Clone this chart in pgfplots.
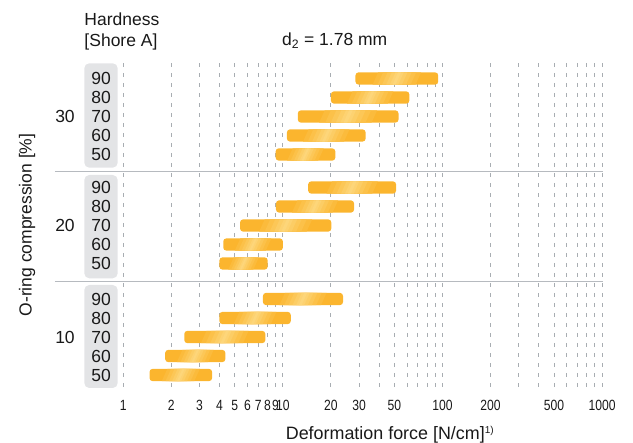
\documentclass[border=0pt]{standalone}
\usepackage{pgfplots}
\pgfplotsset{compat=1.18}
\usepackage{fontspec}
\setmainfont{Liberation Sans}
\newfontfamily\cond[FakeStretch=0.82]{Liberation Sans}
\definecolor{barO}{RGB}{251,181,46}
\definecolor{barL}{RGB}{253,214,122}
\definecolor{boxc}{RGB}{227,228,230}
\definecolor{sepc}{RGB}{182,186,191}
\definecolor{gridc}{RGB}{168,173,178}
\definecolor{txt}{RGB}{25,25,25}
% one bar: x from #1 to #2 (N/cm), row centre #3
\newcommand\hb[3]{%
  \pgfmathsetmacro\ya{#3-6.1}\pgfmathsetmacro\yb{#3+6.1}%
  \addplot[barst] coordinates {(#1,#3) (#1,\ya) (#2,\ya) (#2,\yb) (#1,\yb)} -- cycle;
  \pgfmathsetmacro\lc{(ln(#1)+ln(#2))/2}\pgfmathsetmacro\lw{ln(#2)-ln(#1)}%
  \foreach \f/\m in {0.26/18,0.20/36,0.145/54,0.095/72,0.05/88,0.018/100}{%
    \pgfmathsetmacro\xla{exp(\lc-\f*\lw+0.04)}\pgfmathsetmacro\xra{exp(\lc+\f*\lw+0.04)}%
    \pgfmathsetmacro\xlb{exp(\lc-\f*\lw-0.04)}\pgfmathsetmacro\xrb{exp(\lc+\f*\lw-0.04)}%
    \edef\tmp{\noexpand\addplot[draw=none, fill=barL!\m!barO] coordinates {(\xla,\ya) (\xra,\ya) (\xrb,\yb) (\xlb,\yb)} -- cycle;}\tmp
  }%
}
\begin{document}
\begin{tikzpicture}[font=\fontsize{17.5}{21}\selectfont, every node/.style={text=txt}]
\begin{axis}[
  xmode=log, log basis x=10,
  scale only axis, width=633pt, height=324.7pt,
  xmin=0.16882, xmax=1561.7,
  ymin=63.3, ymax=388, y dir=reverse,
  clip=false,
  axis line style={draw=none},
  major tick length=0pt, tick style={draw=none},
  ytick=\empty,
  xtick={1,2,3,4,5,6,7,8,9,10,20,30,40,50,60,70,80,90,100,200,300,400,500,600,700,800,900,1000},
  xticklabels={1,2,3,4,5,6,7,8,9,10,20,30,{},50,{},{},{},{},100,200,{},{},500,{},{},{},{},1000},
  xticklabel style={anchor=center, yshift=-17.7pt, font=\cond\fontsize{14.8}{16}\selectfont, text=txt},
  grid=major,
  major grid style={dash pattern=on 4pt off 6pt, color=gridc, line width=0.9pt},
  barst/.style={draw=none, fill=barO, rounded corners=3pt},
  boxst/.style={draw=none, fill=boxc, rounded corners=5pt},
]
% grey boxes behind hardness labels
\addplot[boxst] coordinates {(0.5696,115) (0.5696,63.3) (0.9224,63.3) (0.9224,167.7) (0.5696,167.7)} -- cycle;
\addplot[boxst] coordinates {(0.5696,225) (0.5696,175) (0.9224,175) (0.9224,278.3) (0.5696,278.3)} -- cycle;
\addplot[boxst] coordinates {(0.5696,335) (0.5696,285) (0.9224,285) (0.9224,388) (0.5696,388)} -- cycle;
% separators
\addplot[sepc, line width=1.4pt] coordinates {(0.3733,171.5) (1005.8,171.5)};
\addplot[sepc, line width=1.4pt] coordinates {(0.3733,281.8) (1005.8,281.8)};
% compression 30 %  (hardness 90, 80, 70, 60, 50)
\hb{28.5}{94}{78.5}
\hb{20}{62}{97.5}
\hb{12.4}{53}{116.5}
\hb{10.6}{33}{135.5}
\hb{9}{21.3}{154.5}
% compression 20 %
\hb{14.4}{51.2}{187.5}
\hb{9.05}{27.9}{206.5}
\hb{5.39}{20.1}{225.5}
\hb{4.23}{10}{244.5}
\hb{4}{8.03}{263.5}
% compression 10 %
\hb{7.5}{23.8}{299}
\hb{4}{11.2}{318}
\hb{2.41}{7.76}{337}
\hb{1.83}{4.36}{356}
\hb{1.46}{3.6}{375}
% texts
\node[anchor=base west, inner sep=0pt] at (axis cs:0.5696,26) {Hardness};
\node[anchor=base west, inner sep=0pt] at (axis cs:0.5696,46.5) {[Shore A]};
\node[anchor=base west, inner sep=0pt] at (axis cs:9.871,46) {d\textsubscript{2} = 1.78 mm};
\node[anchor=center, inner sep=0pt] at (axis cs:0.4312,116.5) {30};
\node[anchor=center, inner sep=0pt] at (axis cs:0.4312,225.5) {20};
\node[anchor=center, inner sep=0pt] at (axis cs:0.4312,337) {10};
\foreach \yy/\lab in {78.5/90,97.5/80,116.5/70,135.5/60,154.5/50,187.5/90,206.5/80,225.5/70,244.5/60,263.5/50,299/90,318/80,337/70,356/60,375/50}{
  \edef\tmp{\noexpand\node[anchor=center, inner sep=0pt] at (axis cs:0.7250,\yy) {\lab};}\tmp
}
\node[anchor=center, inner sep=0pt, rotate=90] at (axis cs:0.2492,225) {O-ring compression [\%]};
\node[anchor=base, inner sep=0pt] at (axis cs:46.89,439.3) {\fontsize{17.9}{21}\selectfont Deformation force [N/cm]\textsuperscript{\fontsize{10}{10}\selectfont 1)}};
\coordinate (bbA) at (axis cs:0.16882,0);
\coordinate (bbB) at (axis cs:1561.7,443);
\end{axis}
\pgfresetboundingbox
\path (bbA) rectangle (bbB);
\end{tikzpicture}
\end{document}
